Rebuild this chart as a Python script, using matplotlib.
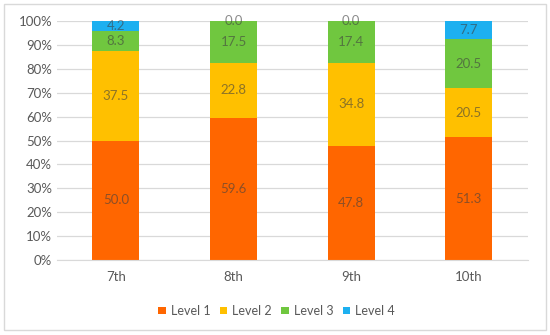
import matplotlib
matplotlib.use('Agg')
import matplotlib.pyplot as plt
import numpy as np
from matplotlib.patches import Rectangle

plt.rcParams['font.family'] = ['Lato', 'DejaVu Sans']

grades = ['7th', '8th', '9th', '10th']
levels = ['Level 1', 'Level 2', 'Level 3', 'Level 4']
level1 = [50.0, 59.6, 47.8, 51.3]
level2 = [37.5, 22.8, 34.8, 20.5]
level3 = [8.3, 17.5, 17.4, 20.5]
level4 = [4.2, 0.0, 0.0, 7.7]
colors = ['#FF6600', '#FFC000', '#70C73F', '#1DB0F0']

fig = plt.figure(figsize=(5.5, 3.35), dpi=100)
# light border round the whole chart
fig.patches.append(Rectangle((4 / 550, 5 / 335), 542 / 550, 326 / 335, transform=fig.transFigure,
                             fill=False, edgecolor='#d9d9d9', linewidth=1.0))
ax = fig.add_axes([0.1036, 0.224, 0.856, 0.713])

x = np.arange(len(grades))
bottom = np.zeros(len(grades))
for vals, name, col in zip([level1, level2, level3, level4], levels, colors):
    vals = np.array(vals)
    ax.bar(x, vals, 0.4, bottom=bottom, color=col, label=name, zorder=2)
    for xi, b, v in zip(x, bottom, vals):
        ax.text(xi, b + v / 2, f'{v:.1f}', ha='center', va='center',
                fontsize=9.5, color='#404040', alpha=0.6, zorder=3)
    bottom += vals

ax.set_xlim(-0.5, 3.5)
ax.set_ylim(0, 100)
ax.set_yticks(range(0, 101, 10))
ax.set_yticklabels([f'{t}%' for t in range(0, 101, 10)])
ax.set_xticks(x)
ax.set_xticklabels(grades)
ax.grid(axis='y', color='#d9d9d9', linewidth=0.9, zorder=0)
for s in ['top', 'right', 'left']:
    ax.spines[s].set_visible(False)
ax.spines['bottom'].set_color('#d9d9d9')
ax.tick_params(length=0, colors='#595959', labelsize=9.5)
ax.tick_params(axis='x', pad=8)

# legend is centred on the whole chart, not the plot area
handles, labels = ax.get_legend_handles_labels()
fig.legend(handles, labels, loc='center', bbox_to_anchor=(0.503, 0.072), ncol=4, frameon=False,
           fontsize=9, handlelength=0.6, handleheight=0.6, handletextpad=0.4,
           columnspacing=0.75, labelcolor='#595959')

fig.savefig('out.png', dpi=100)
